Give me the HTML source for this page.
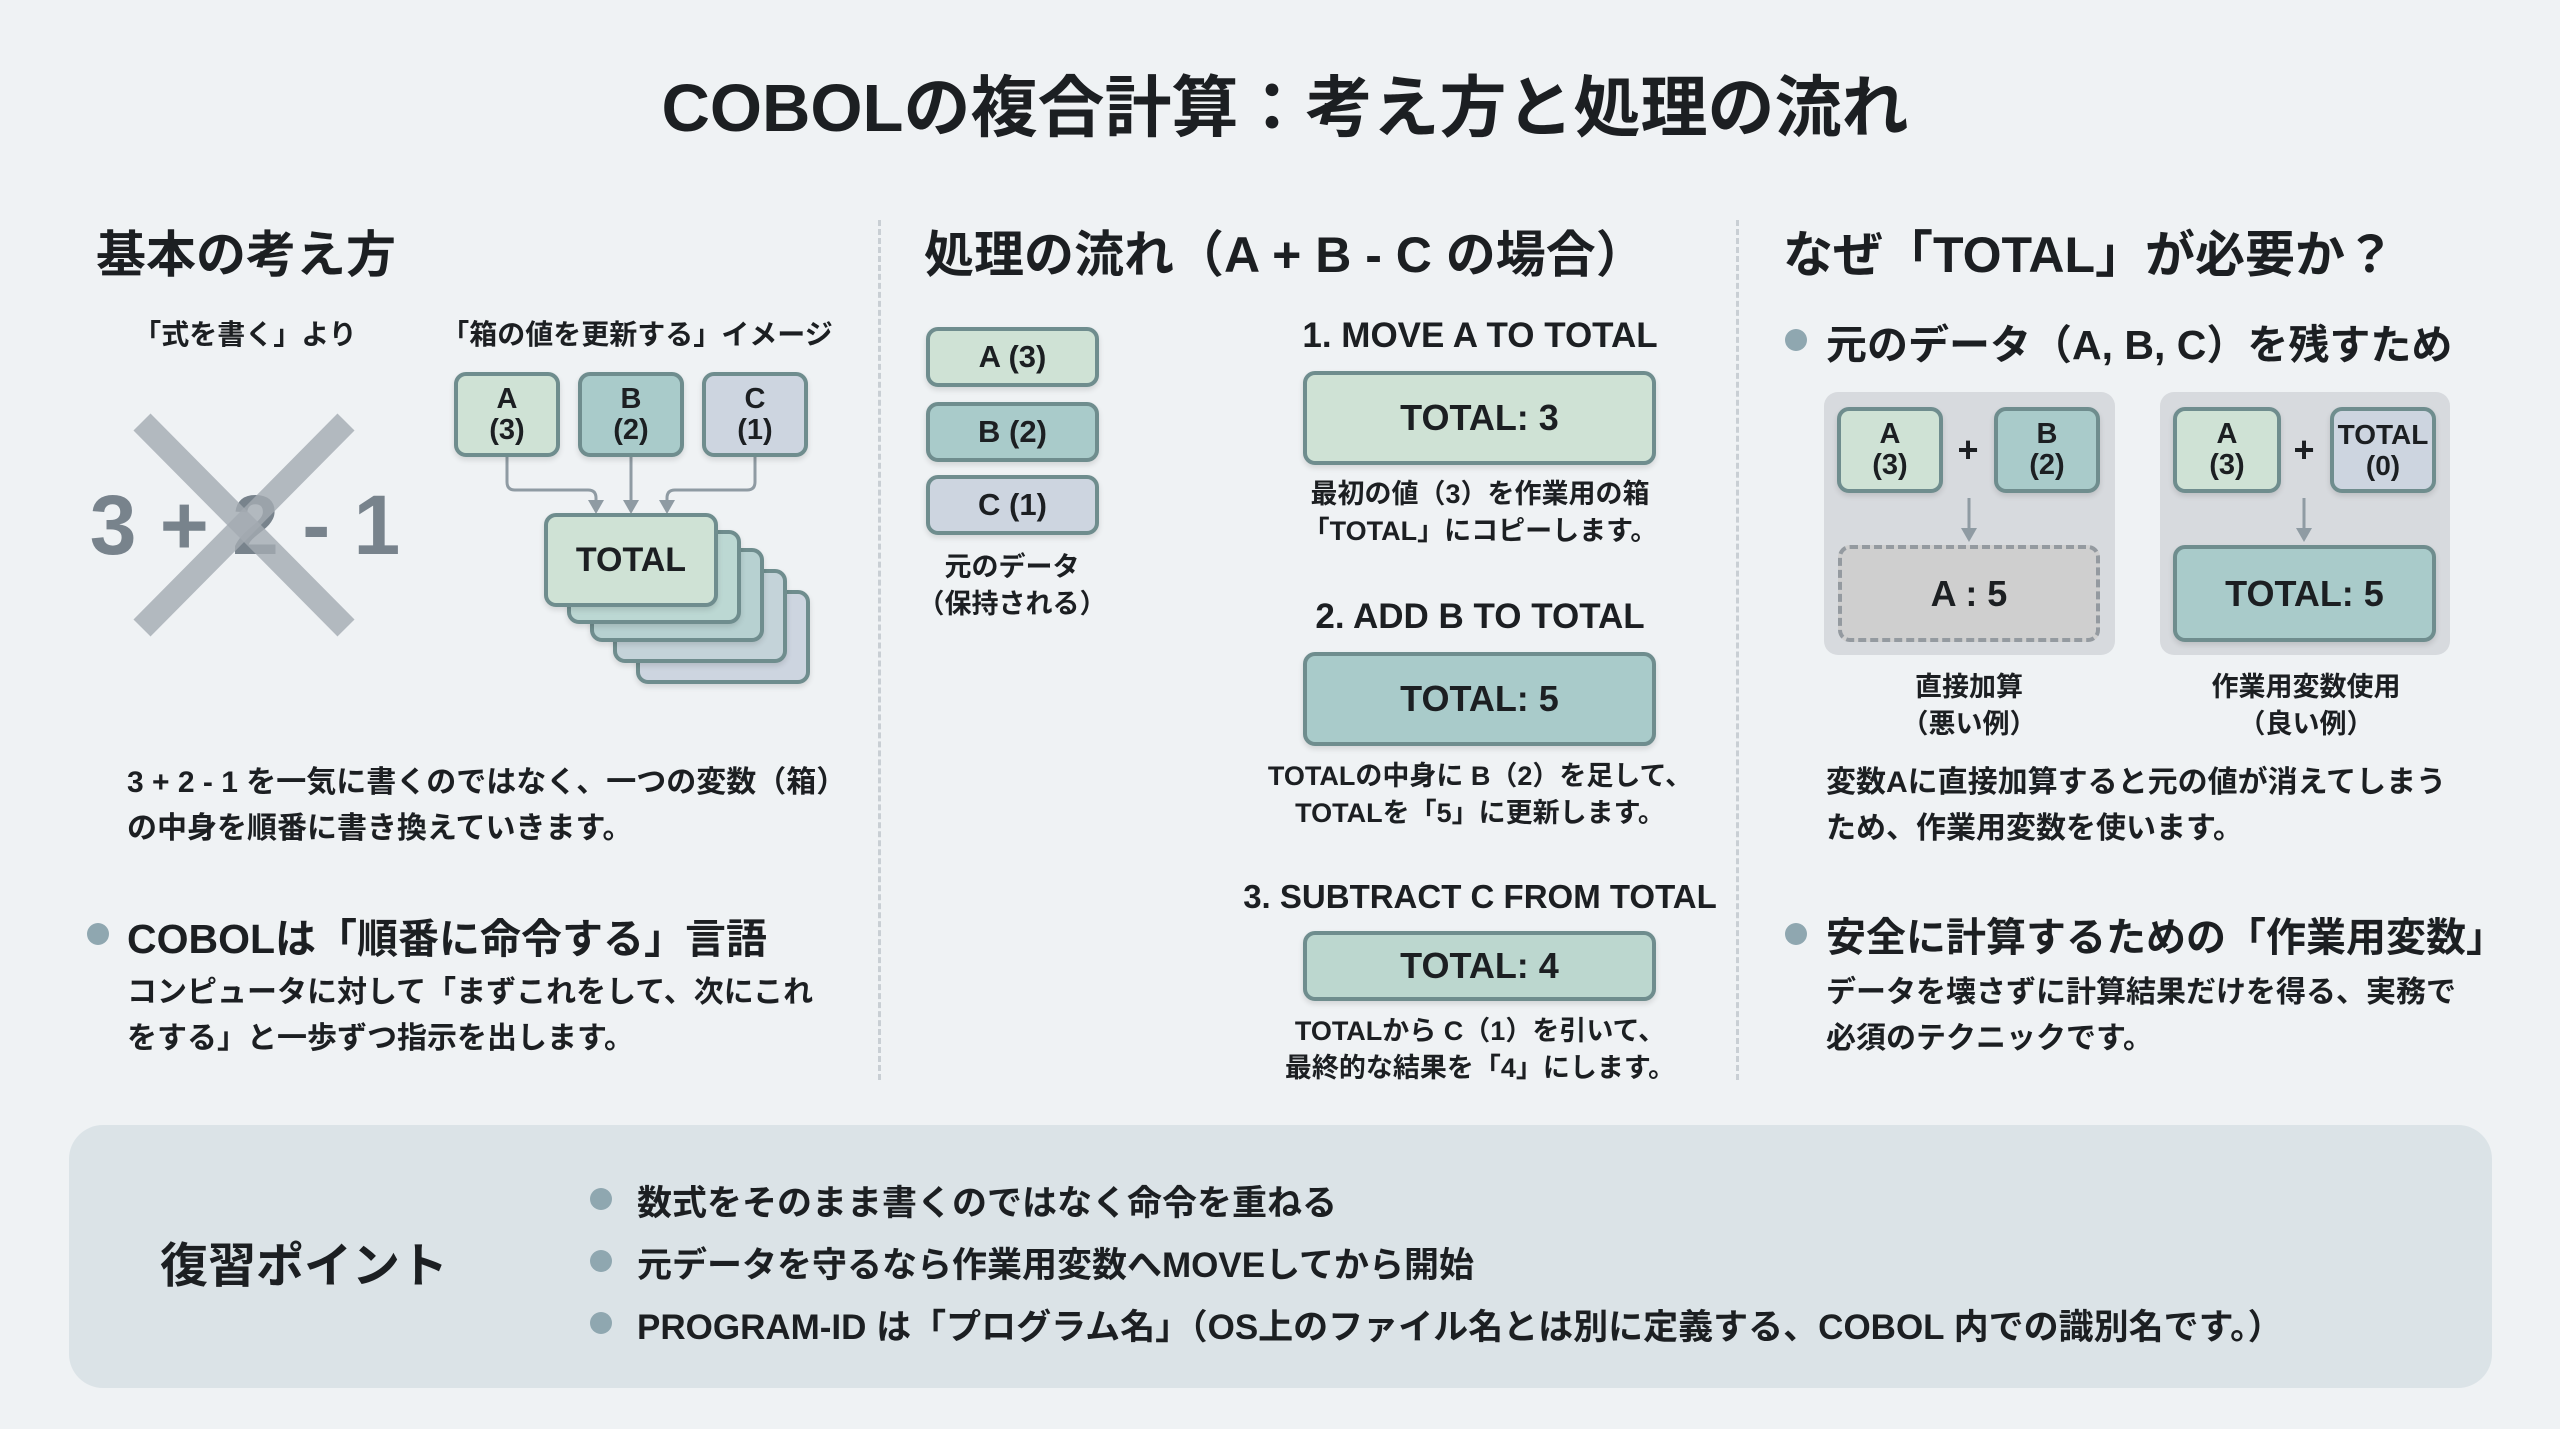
<!DOCTYPE html>
<html><head><meta charset="utf-8">
<style>
*{margin:0;padding:0;box-sizing:border-box}
body{width:2560px;height:1429px;background:#eff2f4;position:relative;overflow:hidden;font-family:"Liberation Sans","Noto Sans CJK JP",sans-serif;font-weight:bold;color:#1c1f22}
.a{position:absolute;white-space:nowrap}
.c{position:absolute;display:flex;align-items:center;justify-content:center;text-align:center;white-space:nowrap}
.bx{border:4px solid #6f8d8e;border-radius:12px;box-shadow:0 3px 6px rgba(0,0,0,.12)}
.g{background:#cfe2d5}
.t{background:#a9cbca}
.s{background:#cdd5e0}
.dot{position:absolute;width:22px;height:22px;border-radius:50%;background:#8fa7b0}
.h2{font-size:50px}
.p{font-size:30px;line-height:46px}
.vd{position:absolute;top:220px;height:860px;border-left:3px dashed #c9cfd4}
</style></head><body>

<div class="c" style="left:0;top:55px;width:2570px;height:95px;font-size:67px">COBOLの複合計算：考え方と処理の流れ</div>

<div class="vd" style="left:878px"></div>
<div class="vd" style="left:1736px"></div>

<!-- LEFT -->
<div class="a h2" style="left:96px;top:215px">基本の考え方</div>
<div class="c" style="left:145px;top:313px;width:200px;height:40px;font-size:28px">「式を書く」より</div>
<div class="c" style="left:437px;top:313px;width:400px;height:40px;font-size:28px">「箱の値を更新する」イメージ</div>

<div class="c" style="left:95px;top:465px;width:300px;height:120px;font-size:84px;color:#78838c">3 + 2 - 1</div>
<svg class="a" style="left:0;top:0" width="880" height="1100">
<line x1="142" y1="422" x2="346" y2="628" stroke="#a4abb2" stroke-width="24" opacity=".8"/>
<line x1="346" y1="422" x2="142" y2="628" stroke="#a4abb2" stroke-width="24" opacity=".8"/>
<g fill="none" stroke="#8f9ba3" stroke-width="3">
<path d="M507 457 V482 Q507 490 515 490 H588 Q596 490 596 498 V505"/>
<path d="M631 457 V505"/>
<path d="M755 457 V482 Q755 490 747 490 H675 Q667 490 667 498 V505"/>
</g>
<g fill="#8f9ba3">
<path d="M588 500 L604 500 L596 514Z"/><path d="M623 500 L639 500 L631 514Z"/><path d="M659 500 L675 500 L667 514Z"/>
</g>
</svg>
<div class="c bx g" style="left:454px;top:372px;width:106px;height:85px;font-size:29px;line-height:31px">A<br>(3)</div>
<div class="c bx t" style="left:578px;top:372px;width:106px;height:85px;font-size:29px;line-height:31px">B<br>(2)</div>
<div class="c bx s" style="left:702px;top:372px;width:106px;height:85px;font-size:29px;line-height:31px">C<br>(1)</div>

<div class="bx s" style="position:absolute;left:636px;top:590px;width:174px;height:94px"></div>
<div class="bx s" style="position:absolute;left:613px;top:569px;width:174px;height:94px;background:#c4d3d9"></div>
<div class="bx t" style="position:absolute;left:590px;top:548px;width:174px;height:94px;background:#b7d1d1"></div>
<div class="bx t" style="position:absolute;left:567px;top:530px;width:174px;height:94px;background:#bcd8d3"></div>
<div class="c bx g" style="left:544px;top:513px;width:174px;height:94px;font-size:34px">TOTAL</div>

<div class="a p" style="left:127px;top:760px">3 + 2 - 1 を一気に書くのではなく、一つの変数（箱）<br>の中身を順番に書き換えていきます。</div>
<div class="dot" style="left:87px;top:923px"></div>
<div class="a" style="left:127px;top:905px;font-size:41px">COBOLは「順番に命令する」言語</div>
<div class="a p" style="left:127px;top:970px">コンピュータに対して「まずこれをして、次にこれ<br>をする」と一歩ずつ指示を出します。</div>

<!-- MIDDLE -->
<div class="a h2" style="left:924px;top:215px">処理の流れ（A + B - C の場合）</div>
<div class="c bx g" style="left:926px;top:327px;width:173px;height:60px;font-size:31px">A (3)</div>
<div class="c bx t" style="left:926px;top:402px;width:173px;height:60px;font-size:31px">B (2)</div>
<div class="c bx s" style="left:926px;top:475px;width:173px;height:60px;font-size:31px">C (1)</div>
<div class="c" style="left:912px;top:548px;width:200px;height:76px;font-size:27px;line-height:37px">元のデータ<br>（保持される）</div>

<div class="c" style="left:1230px;top:314px;width:500px;height:44px;font-size:35px">1. MOVE A TO TOTAL</div>
<div class="c bx g" style="left:1303px;top:371px;width:353px;height:94px;font-size:36px">TOTAL: 3</div>
<div class="c" style="left:1230px;top:475px;width:500px;height:76px;font-size:27px;line-height:37px">最初の値（3）を作業用の箱<br>「TOTAL」にコピーします。</div>

<div class="c" style="left:1230px;top:595px;width:500px;height:44px;font-size:35px">2. ADD B TO TOTAL</div>
<div class="c bx t" style="left:1303px;top:652px;width:353px;height:94px;font-size:36px">TOTAL: 5</div>
<div class="c" style="left:1230px;top:757px;width:500px;height:76px;font-size:27px;line-height:37px">TOTALの中身に B（2）を足して、<br>TOTALを「5」に更新します。</div>

<div class="c" style="left:1230px;top:875px;width:500px;height:44px;font-size:33px">3. SUBTRACT C FROM TOTAL</div>
<div class="c bx" style="left:1303px;top:931px;width:353px;height:70px;font-size:36px;background:#bcd7cf">TOTAL: 4</div>
<div class="c" style="left:1230px;top:1012px;width:500px;height:76px;font-size:27px;line-height:37px">TOTALから C（1）を引いて、<br>最終的な結果を「4」にします。</div>

<!-- RIGHT -->
<div class="a h2" style="left:1783px;top:215px">なぜ「TOTAL」が必要か？</div>
<div class="dot" style="left:1785px;top:329px"></div>
<div class="a" style="left:1826px;top:311px;font-size:41px">元のデータ（A, B, C）を残すため</div>

<div class="a" style="left:1824px;top:392px;width:291px;height:263px;background:#d7dade;border-radius:14px"></div>
<div class="a" style="left:2160px;top:392px;width:290px;height:263px;background:#d7dade;border-radius:14px"></div>
<div class="c bx g" style="left:1837px;top:407px;width:106px;height:86px;font-size:29px;line-height:31px">A<br>(3)</div>
<div class="c" style="left:1948px;top:425px;width:40px;height:50px;font-size:36px">+</div>
<div class="c bx t" style="left:1994px;top:407px;width:106px;height:86px;font-size:29px;line-height:31px">B<br>(2)</div>
<div class="c" style="left:1838px;top:545px;width:262px;height:97px;font-size:36px;border:4px dashed #949aa0;border-radius:12px;background:#cfcfcf">A : 5</div>
<div class="c bx g" style="left:2173px;top:407px;width:108px;height:86px;font-size:29px;line-height:31px">A<br>(3)</div>
<div class="c" style="left:2284px;top:425px;width:40px;height:50px;font-size:36px">+</div>
<div class="c bx s" style="left:2330px;top:407px;width:106px;height:86px;font-size:28px;line-height:31px">TOTAL<br>(0)</div>
<div class="c bx t" style="left:2173px;top:545px;width:263px;height:97px;font-size:36px">TOTAL: 5</div>
<svg class="a" style="left:0;top:0" width="2560" height="700">
<g stroke="#8f9ba3" stroke-width="3"><line x1="1969" y1="498" x2="1969" y2="532"/><line x1="2304" y1="498" x2="2304" y2="532"/></g>
<g fill="#8f9ba3"><path d="M1961 528 L1977 528 L1969 542Z"/><path d="M2296 528 L2312 528 L2304 542Z"/></g>
</svg>
<div class="c" style="left:1869px;top:668px;width:200px;height:76px;font-size:27px;line-height:37px">直接加算<br>（悪い例）</div>
<div class="c" style="left:2186px;top:668px;width:240px;height:76px;font-size:27px;line-height:37px">作業用変数使用<br>（良い例）</div>
<div class="a p" style="left:1826px;top:760px">変数Aに直接加算すると元の値が消えてしまう<br>ため、作業用変数を使います。</div>
<div class="dot" style="left:1785px;top:923px"></div>
<div class="a" style="left:1826px;top:905px;font-size:40px">安全に計算するための「作業用変数」</div>
<div class="a p" style="left:1826px;top:970px">データを壊さずに計算結果だけを得る、実務で<br>必須のテクニックです。</div>

<!-- BOTTOM -->
<div class="a" style="left:69px;top:1125px;width:2423px;height:263px;background:#dbe3e7;border-radius:34px"></div>
<div class="a" style="left:160px;top:1226px;font-size:48px">復習ポイント</div>
<div class="dot" style="left:590px;top:1188px"></div>
<div class="a" style="left:637px;top:1175px;font-size:35px">数式をそのまま書くのではなく命令を重ねる</div>
<div class="dot" style="left:590px;top:1250px"></div>
<div class="a" style="left:637px;top:1237px;font-size:35px">元データを守るなら作業用変数へMOVEしてから開始</div>
<div class="dot" style="left:590px;top:1312px"></div>
<div class="a" style="left:637px;top:1299px;font-size:35px">PROGRAM-ID は「プログラム名」（OS上のファイル名とは別に定義する、COBOL 内での識別名です。）</div>

</body></html>
